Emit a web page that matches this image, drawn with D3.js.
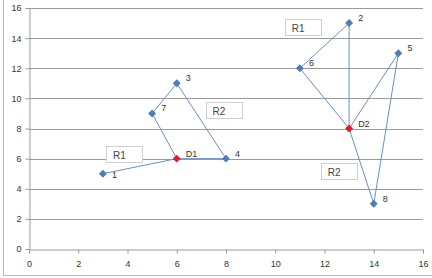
<!doctype html>
<html>
<head>
<meta charset="utf-8">
<script src="https://d3js.org/d3.v7.min.js"></script>
<style>
  body { margin: 0; background: #fff; }
  text { font-family: "Liberation Sans", Arial, sans-serif; }
</style>
</head>
<body>
<div id="chart"></div>
<script>
// points: name, x, y
var pointNames = ["1", "2", "3", "4", "5", "6", "7", "8"];
var pointX = [3, 13, 6, 8, 15, 11, 5, 14];
var pointY = [5, 15, 11, 6, 13, 12, 9, 3];

var centerNames = ["D1", "D2"];
var centerX = [6, 13];
var centerY = [6, 8];

// line segments between named nodes
var segments = [
  ["1", "D1"], ["D1", "7"], ["7", "3"], ["3", "4"], ["4", "D1"],
  ["6", "2"], ["2", "D2"], ["6", "D2"], ["D2", "5"], ["5", "8"], ["8", "D2"]
];

// label boxes: text, x, y (data coords of box centre)
var boxText = ["R1", "R2", "R1", "R2"];
var boxX = [3.86, 7.9, 11.12, 12.58];
var boxY = [6.3, 9.24, 14.74, 5.17];

var xTicks = [0, 2, 4, 6, 8, 10, 12, 14, 16];
var yTicks = [0, 2, 4, 6, 8, 10, 12, 14, 16];

var width = 432, height = 278;
var margin = {top: 8, right: 9, bottom: 29, left: 29};

var svg = d3.select("#chart").append("svg")
    .attr("width", width)
    .attr("height", height);

// chart border
svg.append("rect")
    .attr("x", 3.5).attr("y", -1)
    .attr("width", 440).attr("height", 276.5)
    .attr("fill", "none")
    .attr("stroke", "#b8b8b8");

var x = d3.scaleLinear().domain([0, 16]).range([margin.left, width - margin.right]);
var y = d3.scaleLinear().domain([0, 16]).range([height - margin.bottom, margin.top]);

// gridlines
svg.append("g")
    .selectAll("line")
    .data(yTicks.filter(d => d > 0))
    .enter().append("line")
    .attr("x1", x(0)).attr("x2", x(16))
    .attr("y1", d => Math.round(y(d)) + 0.5)
    .attr("y2", d => Math.round(y(d)) + 0.5)
    .attr("stroke", "#9a9a9a");

// axes
var xAxis = svg.append("g")
    .attr("transform", "translate(0," + (Math.round(y(0)) + 0.5) + ")")
    .call(d3.axisBottom(x).tickValues(xTicks).tickSize(4).tickPadding(7));
var yAxis = svg.append("g")
    .attr("transform", "translate(" + (Math.round(x(0)) + 0.5) + ",0)")
    .call(d3.axisLeft(y).tickValues(yTicks).tickSize(4).tickPadding(4));

[xAxis, yAxis].forEach(function(a) {
    a.select(".domain").attr("stroke", "#9a9a9a");
    a.selectAll(".tick line").attr("stroke", "#9a9a9a");
    a.selectAll(".tick text")
        .attr("fill", "#333")
        .style("font-size", "9px");
});

// node lookup
var nodes = {};
pointNames.forEach((n, i) => nodes[n] = {x: pointX[i], y: pointY[i]});
centerNames.forEach((n, i) => nodes[n] = {x: centerX[i], y: centerY[i]});

// segments
svg.append("g")
    .selectAll("line")
    .data(segments)
    .enter().append("line")
    .attr("x1", d => x(nodes[d[0]].x))
    .attr("y1", d => y(nodes[d[0]].y))
    .attr("x2", d => x(nodes[d[1]].x))
    .attr("y2", d => y(nodes[d[1]].y))
    .attr("stroke", "#6a8fc4")
    .attr("stroke-width", 1);

// label boxes
var gBox = svg.append("g");
boxText.forEach(function(t, i) {
    var cx = x(boxX[i]), cy = y(boxY[i]);
    gBox.append("rect")
        .attr("x", Math.round(cx - 18) + 0.5)
        .attr("y", Math.round(cy - 8) + 0.5)
        .attr("width", 36).attr("height", 16)
        .attr("fill", "#fff")
        .attr("stroke", "#cfcfcf");
    gBox.append("text")
        .attr("x", cx - 11).attr("y", cy + 5)
        .attr("fill", "#444")
        .style("font-size", "10px")
        .text(t);
});

// markers
var diamond = d3.symbol().type(d3.symbolDiamond2).size(40);
svg.append("g")
    .selectAll("path")
    .data(pointNames)
    .enter().append("path")
    .attr("transform", d => "translate(" + x(nodes[d].x) + "," + y(nodes[d].y) + ")")
    .attr("d", diamond)
    .attr("fill", "#4a7ebb");
svg.append("g")
    .selectAll("path")
    .data(centerNames)
    .enter().append("path")
    .attr("transform", d => "translate(" + x(nodes[d].x) + "," + y(nodes[d].y) + ")")
    .attr("d", diamond)
    .attr("fill", "#e01b2f");

// point labels
svg.append("g")
    .selectAll("text")
    .data(pointNames.concat(centerNames))
    .enter().append("text")
    .attr("x", d => x(nodes[d].x) + 9)
    .attr("y", d => y(nodes[d].y) + (d === "1" ? 4 : -2))
    .attr("fill", "#333")
    .style("font-size", "9px")
    .text(d => d);
</script>
</body>
</html>
